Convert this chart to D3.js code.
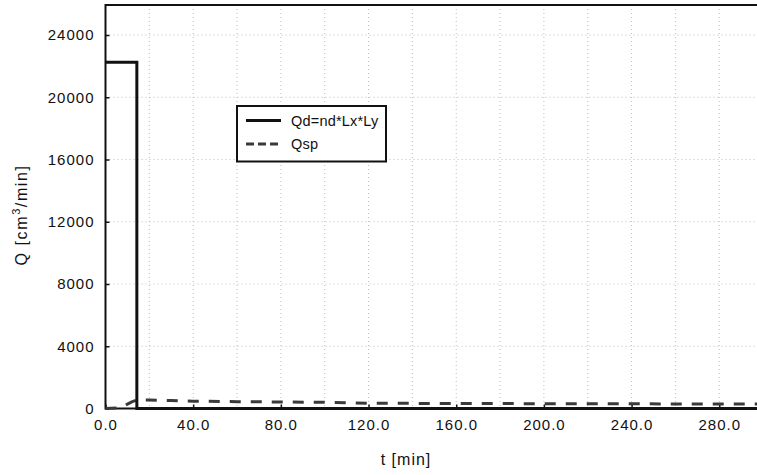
<!DOCTYPE html>
<html>
<head>
<meta charset="utf-8">
<script src="https://cdn.jsdelivr.net/npm/d3@7"></script>
<style>
  body { margin: 0; background: #fff; }
  text { font-family: "Liberation Sans", Arial, sans-serif; font-size: 15px; fill: #111; letter-spacing: 1px; }
</style>
</head>
<body>
<div id="chart"></div>
<script>
// data
var qdTime = [0, 14.3, 14.3, 300]
var qdValue = [22250, 22250, 0, 0]

var qspTime = [0, 6, 8, 10, 12, 14.3, 16, 20, 30, 40, 60, 80, 100, 120, 140, 160, 200, 240, 280, 300]
var qspValue = [0, 40, 120, 280, 430, 540, 560, 550, 510, 470, 440, 420, 400, 340, 330, 320, 310, 300, 290, 285]

var xTicks = [0, 40, 80, 120, 160, 200, 240, 280]
var xGrid = [20, 40, 60, 80, 100, 120, 140, 160, 180, 200, 220, 240, 260, 280]
var yTicks = [0, 4000, 8000, 12000, 16000, 20000, 24000]

var legendNames = ["Qd=nd*Lx*Ly", "Qsp"]

var svgWidth = 757
var svgHeight = 475

var margin = { top: 5, left: 105.5, bottom: 408.5 }

var svg = d3.select("#chart")
    .append("svg")
    .attr("width", svgWidth)
    .attr("height", svgHeight)

var xScale = d3.scaleLinear()
    .domain([0, 300])
    .range([margin.left, margin.left + 300 * 2.192])
var yScale = d3.scaleLinear()
    .domain([0, 24000])
    .range([margin.bottom, 35])

// grid
svg.append("g").selectAll("line")
    .data(xGrid)
    .enter()
    .append("line")
    .attr("x1", d => xScale(d))
    .attr("x2", d => xScale(d))
    .attr("y1", margin.top)
    .attr("y2", margin.bottom)
    .attr("stroke", "#bdbdbd")
    .attr("stroke-dasharray", "1,3")
svg.append("g").selectAll("line")
    .data(yTicks.slice(1))
    .enter()
    .append("line")
    .attr("x1", margin.left)
    .attr("x2", svgWidth)
    .attr("y1", d => yScale(d))
    .attr("y2", d => yScale(d))
    .attr("stroke", "#bdbdbd")
    .attr("stroke-dasharray", "1,3")

// axes
var bottomAxis = d3.axisBottom(xScale)
    .tickValues(xTicks)
    .tickSize(-4)
    .tickPadding(11)
    .tickFormat(d3.format(".1f"))
var leftAxis = d3.axisLeft(yScale)
    .tickValues(yTicks)
    .tickSize(-4)
    .tickPadding(11)
    .tickFormat(d3.format("d"))

var gx = svg.append("g")
    .attr("transform", `translate(0,${margin.bottom})`)
    .call(bottomAxis)
var gy = svg.append("g")
    .attr("transform", `translate(${margin.left},0)`)
    .call(leftAxis)
gx.select(".domain").remove()
gy.select(".domain").remove()
svg.selectAll(".tick line").attr("stroke", "#111").attr("stroke-width", 1.5)
svg.selectAll(".tick text")
    .attr("font-family", "Liberation Sans, Arial, sans-serif")
    .attr("font-size", 15)
    .attr("fill", "#111")

// frame
svg.append("path")
    .attr("d", `M${svgWidth + 2},${margin.top}H${margin.left}V${margin.bottom}H${svgWidth + 2}`)
    .attr("fill", "none")
    .attr("stroke", "#111")
    .attr("stroke-width", 2)

// series
var line = d3.line()
    .x(d => xScale(d[0]))
    .y(d => yScale(d[1]))

svg.append("path")
    .datum(d3.zip(qspTime, qspValue))
    .attr("d", line)
    .attr("fill", "none")
    .attr("stroke", "#3a3a3a")
    .attr("stroke-width", 3)
    .attr("stroke-dasharray", "11,10")

svg.append("path")
    .datum(d3.zip(qdTime, qdValue))
    .attr("d", line)
    .attr("fill", "none")
    .attr("stroke", "#111")
    .attr("stroke-width", 3)

// axis titles
svg.append("text")
    .attr("x", 406)
    .attr("y", 465)
    .attr("text-anchor", "middle")
    .style("font-size", "16px")
    .text("t [min]")

var yTitle = svg.append("text")
    .attr("transform", "translate(27,215) rotate(-90)")
    .attr("text-anchor", "middle")
    .style("font-size", "16px")
    .style("letter-spacing", "1.6px")
yTitle.append("tspan").text("Q [cm")
yTitle.append("tspan").attr("dy", -7).style("font-size", "11px").text("3")
yTitle.append("tspan").attr("dy", 7).text("/min]")

// legend
var legend = svg.append("g")
legend.append("rect")
    .attr("x", 237)
    .attr("y", 106)
    .attr("width", 149)
    .attr("height", 55.5)
    .attr("fill", "#fff")
    .attr("stroke", "#111")
    .attr("stroke-width", 2)

var items = legend.selectAll(".item")
    .data(legendNames)
    .enter()
    .append("g")
    .attr("transform", (d, i) => `translate(246,${120.5 + i * 23.5})`)
items.append("line")
    .attr("x1", 0)
    .attr("x2", 35)
    .attr("stroke", (d, i) => i == 0 ? "#111" : "#3a3a3a")
    .attr("stroke-width", 3)
    .attr("stroke-dasharray", (d, i) => i == 0 ? null : "8,4")
items.append("text")
    .attr("x", 45)
    .attr("dy", "0.36em")
    .style("letter-spacing", "0.2px")
    .style("font-size", "14.5px")
    .text(d => d)
</script>
</body>
</html>
